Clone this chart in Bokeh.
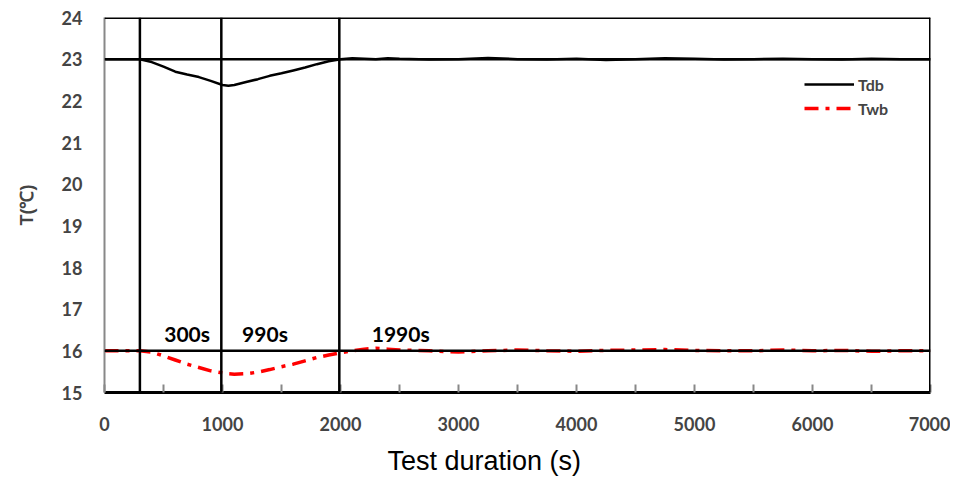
from bokeh.plotting import figure
from bokeh.models import Span, FixedTicker, Legend, LegendItem, Range1d, ColumnDataSource, Title
from bokeh.core.properties import value
from bokeh.embed import file_html
from bokeh.resources import INLINE

# ---- data ----
time_s = [0, 100, 200, 300, 400, 500, 600, 700, 800, 900, 1000, 1050, 1100, 1200, 1300,
          1400, 1500, 1600, 1700, 1800, 1900, 2000, 2100, 2200, 2300, 2400, 2500, 2750,
          3000, 3250, 3500, 3750, 4000, 4250, 4500, 4750, 5000, 5250, 5500, 5750, 6000,
          6250, 6500, 6750, 7000]
tdb = [23.0, 23.0, 23.0, 23.0, 22.93, 22.82, 22.7, 22.63, 22.57, 22.48, 22.38, 22.36, 22.38,
       22.45, 22.52, 22.6, 22.66, 22.73, 22.8, 22.88, 22.95, 23.0, 23.02, 23.01, 23.0, 23.02,
       23.01, 22.99, 23.0, 23.03, 23.0, 22.99, 23.01, 22.98, 23.0, 23.02, 23.01, 22.99, 23.0,
       23.01, 23.0, 22.99, 23.01, 23.0, 23.0]
twb = [16.0, 16.0, 16.0, 16.0, 15.97, 15.88, 15.78, 15.68, 15.6, 15.52, 15.47, 15.45, 15.44,
       15.45, 15.49, 15.55, 15.62, 15.68, 15.76, 15.84, 15.9, 15.95, 16.0, 16.04, 16.06, 16.04,
       16.02, 16.0, 15.97, 16.0, 16.02, 16.0, 15.99, 16.01, 16.02, 16.03, 16.01, 16.0, 16.0,
       16.02, 16.0, 16.01, 15.99, 16.0, 16.0]
x_ticks = [0, 1000, 2000, 3000, 4000, 5000, 6000, 7000]
x_minor = [500, 1500, 2500, 3500, 4500, 5500, 6500]
y_ticks = [15, 16, 17, 18, 19, 20, 21, 22, 23, 24]
mark_times = [300, 990, 1990]
ref_levels = [23, 16]
mark_labels = ["300s", "990s", "1990s"]
label_x = [700, 1360, 2510]
label_y = [16.12, 16.12, 16.12]
x_title = "Test duration (s)"
y_title = "T(℃)"

p = figure(output_backend="svg", toolbar_location=None,
           frame_width=826, frame_height=375,
           min_border_left=104, min_border_right=20, min_border_top=17, min_border_bottom=86,
           x_range=Range1d(0, 7000), y_range=Range1d(15, 24))
p.outline_line_color = None
p.grid.visible = False
p.background_fill_color = "white"

for t in mark_times:
    p.add_layout(Span(location=t, dimension="height", line_color="black", line_width=2.5))
for lv in ref_levels:
    p.add_layout(Span(location=lv, dimension="width", line_color="black", line_width=2.5))
# top and right frame borders
p.add_layout(Span(location=24, dimension="width", line_color="black", line_width=3))
p.add_layout(Span(location=7000, dimension="height", line_color="black", line_width=3))

src = ColumnDataSource(dict(t=time_s, tdb=tdb, twb=twb))
r1 = p.line("t", "tdb", source=src, line_color="black", line_width=2.5)
r2 = p.line("t", "twb", source=src, line_color="red", line_width=3.5, line_dash="14 7 4 7")

p.text(x=label_x, y=label_y, text=mark_labels, text_font=value("Lato"),
       text_font_style="bold", text_font_size="21px", text_align="center",
       text_baseline="bottom", text_color="black")

legend = Legend(items=[LegendItem(label="Tdb", renderers=[r1]),
                       LegendItem(label="Twb", renderers=[r2])],
                location=(700, 274), border_line_color=None, background_fill_alpha=0,
                label_text_font="Lato", label_text_font_style="bold",
                label_text_font_size="16px", glyph_width=50, glyph_height=20,
                label_height=20, spacing=4, padding=0, margin=0, label_standoff=4)
p.add_layout(legend)

xa = p.xaxis[0]
xa.ticker = FixedTicker(ticks=x_ticks, minor_ticks=x_minor)
xa.axis_line_color = "black"
xa.axis_line_width = 3
xa.major_tick_in = 8
xa.major_tick_out = 0
xa.minor_tick_in = 8
xa.minor_tick_out = 0
xa.major_tick_line_color = "#888888"
xa.minor_tick_line_color = "#888888"
xa.major_tick_line_width = 2
xa.minor_tick_line_width = 2
xa.major_label_text_font = "Lato"
xa.major_label_text_font_style = "bold"
xa.major_label_text_font_size = "18px"
xa.major_label_standoff = 24

p.add_layout(Title(text=x_title, align="left", offset=283, standoff=20,
                   text_font="Liberation Sans", text_font_style="normal",
                   text_font_size="27px", text_color="black"), "below")

ya = p.yaxis[0]
ya.ticker = FixedTicker(ticks=y_ticks)
ya.axis_line_color = "#888888"
ya.axis_line_width = 2
ya.major_tick_in = 0
ya.major_tick_out = 0
ya.minor_tick_in = 0
ya.minor_tick_out = 0
ya.major_label_text_font = "Lato"
ya.major_label_text_font_style = "bold"
ya.major_label_text_font_size = "18px"
ya.major_label_standoff = 22
ya.axis_label = y_title
ya.axis_label_text_font = "Liberation Sans"
ya.axis_label_text_font_style = "bold"
ya.axis_label_text_font_size = "18px"
ya.axis_label_standoff = 22

open("out.html", "w").write(file_html(p, INLINE))
